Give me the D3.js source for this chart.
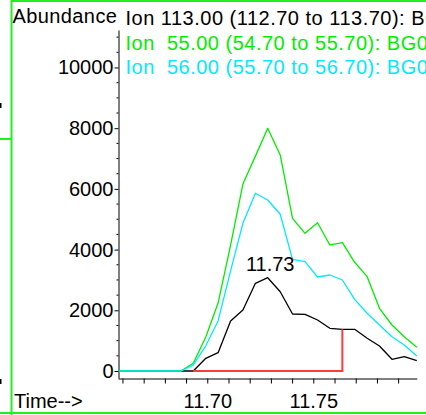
<!DOCTYPE html>
<html>
<head>
<meta charset="utf-8">
<script src="https://cdn.jsdelivr.net/npm/d3@7/dist/d3.min.js"></script>
<style>
  html, body { margin: 0; padding: 0; background: #fff; }
  svg { display: block; font-family: "Liberation Sans", Arial, sans-serif; }
  text { white-space: pre; }
</style>
</head>
<body>
<svg id="chart" width="426" height="415"></svg>
<script>
// ---- data ----
const times = [11.6583, 11.6641, 11.6700, 11.6758, 11.6817, 11.6876, 11.6934, 11.6993,
  11.7051, 11.7110, 11.7168, 11.7227, 11.7285, 11.7344, 11.7402, 11.7461, 11.7520,
  11.7578, 11.7637, 11.7695, 11.7754, 11.7812, 11.7871, 11.7929, 11.7988];
const ion113 = [0, 0, 0, 0, 0, 0, 0, 418, 603, 1647, 2010, 2890, 3074, 2613, 1878, 1868,
  1680, 1407, 1374, 1374, 1077, 824, 385, 471, 339];
const ion55 = [0, 0, 0, 0, 0, 0, 254, 1120, 2240, 4150, 6160, 7080, 7997, 7117, 5031, 4537,
  4886, 4152, 4227, 3582, 3107, 2066, 1516, 1130, 781];
const ion56 = [0, 0, 0, 0, 0, 0, 200, 830, 1650, 3300, 4866, 5855, 5634, 5163, 3680, 3601,
  3097, 3163, 2998, 2362, 1901, 1516, 1130, 857, 494];
const seriesNames = ["Ion 113.00 (112.70 to 113.70): BG0", "Ion  55.00 (54.70 to 55.70): BG0", "Ion  56.00 (55.70 to 56.70): BG0"];
const seriesColors = ["#000000", "#00ee00", "#00eaff"];
const yTicks = [0, 2000, 4000, 6000, 8000, 10000];
const yMinorTicks = [500, 1000, 1500, 2500, 3000, 3500, 4500, 5000, 5500, 6500, 7000, 7500, 8500, 9000, 9500, 10500, 11000];
const xTicks = [11.66, 11.67, 11.68, 11.69, 11.70, 11.71, 11.72, 11.73, 11.74, 11.75, 11.76, 11.77, 11.78, 11.79];
const xTickLabels = ["11.70", "11.75"];
const peakLabel = "11.73";
const integStart = 11.6934, integEnd = 11.7637, integEndValue = 1374;

// ---- drawing ----
const svg = d3.select("#chart");
const x = d3.scaleLinear().domain([11.6579, 11.7988]).range([118, 416.8]);
const y = d3.scaleLinear().domain([-230.6, 11235]).range([378, 30]);
const FONT = 20;

// frame (green borders of the panel)
const frame = svg.append("g").attr("stroke", "#22ee22").attr("stroke-width", 2).attr("fill", "none");
frame.append("line").attr("x1", 11).attr("x2", 426).attr("y1", 1).attr("y2", 1);
frame.append("line").attr("x1", 11.5).attr("x2", 11.5).attr("y1", 0).attr("y2", 415);
frame.append("line").attr("x1", 0).attr("x2", 426).attr("y1", 413).attr("y2", 413);
frame.append("line").attr("x1", 0).attr("x2", 11).attr("y1", 139).attr("y2", 139);
svg.append("rect").attr("x", 0).attr("y", 103).attr("width", 1.5).attr("height", 5).attr("fill", "#000");
svg.append("rect").attr("x", 0).attr("y", 379).attr("width", 1.5).attr("height", 5).attr("fill", "#000");

// y axis
const yAxis = d3.axisLeft(y).tickValues(yTicks).tickSize(4).tickSizeOuter(0).tickPadding(1)
  .tickFormat(d3.format("d"));
const gy = svg.append("g").attr("transform", "translate(118.5,0)").call(yAxis);
gy.selectAll("text").attr("font-size", FONT).attr("font-family", "Liberation Sans, Arial, sans-serif").attr("fill", "#000");
gy.selectAll("line, path").attr("stroke", "#000");
gy.selectAll(".minor").data(yMinorTicks).enter().append("line")
  .attr("x1", -2).attr("x2", 0).attr("y1", d => y(d)).attr("y2", d => y(d)).attr("stroke", "#000");

// x axis
const xAxis = d3.axisBottom(x).tickValues(xTicks).tickSize(5).tickSizeOuter(0).tickPadding(10)
  .tickFormat(d => { const s = d.toFixed(2); return xTickLabels.includes(s) ? s : ""; });
const gx = svg.append("g").attr("transform", "translate(0,378.5)").call(xAxis);
gx.selectAll("text").attr("font-size", FONT).attr("font-family", "Liberation Sans, Arial, sans-serif").attr("fill", "#000")
  .attr("dy", "0.71em");
gx.selectAll("line, path").attr("stroke", "#000");

// series lines
const seriesData = [ion113, ion55, ion56];
const line = d3.line().x((d, i) => x(times[i])).y(d => y(d));
[0, 1, 2].forEach(s => {
  svg.append("path").datum(seriesData[s]).attr("d", line)
    .attr("fill", "none").attr("stroke", seriesColors[s]).attr("stroke-width", 1.3)
    .attr("stroke-linejoin", "round");
});

// integration baseline (red)
svg.append("path")
  .attr("d", `M${x(integStart)},${y(0)}L${x(integEnd)},${y(0)}L${x(integEnd)},${y(integEndValue)}`)
  .attr("fill", "none").attr("stroke", "#ff3b3b").attr("stroke-width", 2);

// peak label
const pk = d3.maxIndex(ion113);
svg.append("text").attr("x", x(times[pk]) + 2.5).attr("y", y(ion113[pk]) - 7)
  .attr("text-anchor", "middle").attr("font-size", FONT).attr("fill", "#000").text(peakLabel);

// header texts
svg.append("text").attr("x", 12.5).attr("y", 23).attr("font-size", FONT).attr("letter-spacing", 0.4)
  .attr("fill", "#000").text("Abundance");
seriesNames.forEach((n, i) => {
  svg.append("text").attr("x", 125.5).attr("y", 25 + i * 24.5).attr("font-size", FONT)
    .attr("letter-spacing", 0.5).attr("fill", seriesColors[i]).text(n);
});
svg.append("text").attr("x", 14).attr("y", 408).attr("font-size", FONT).attr("fill", "#000").text("Time-->");
</script>
</body>
</html>
